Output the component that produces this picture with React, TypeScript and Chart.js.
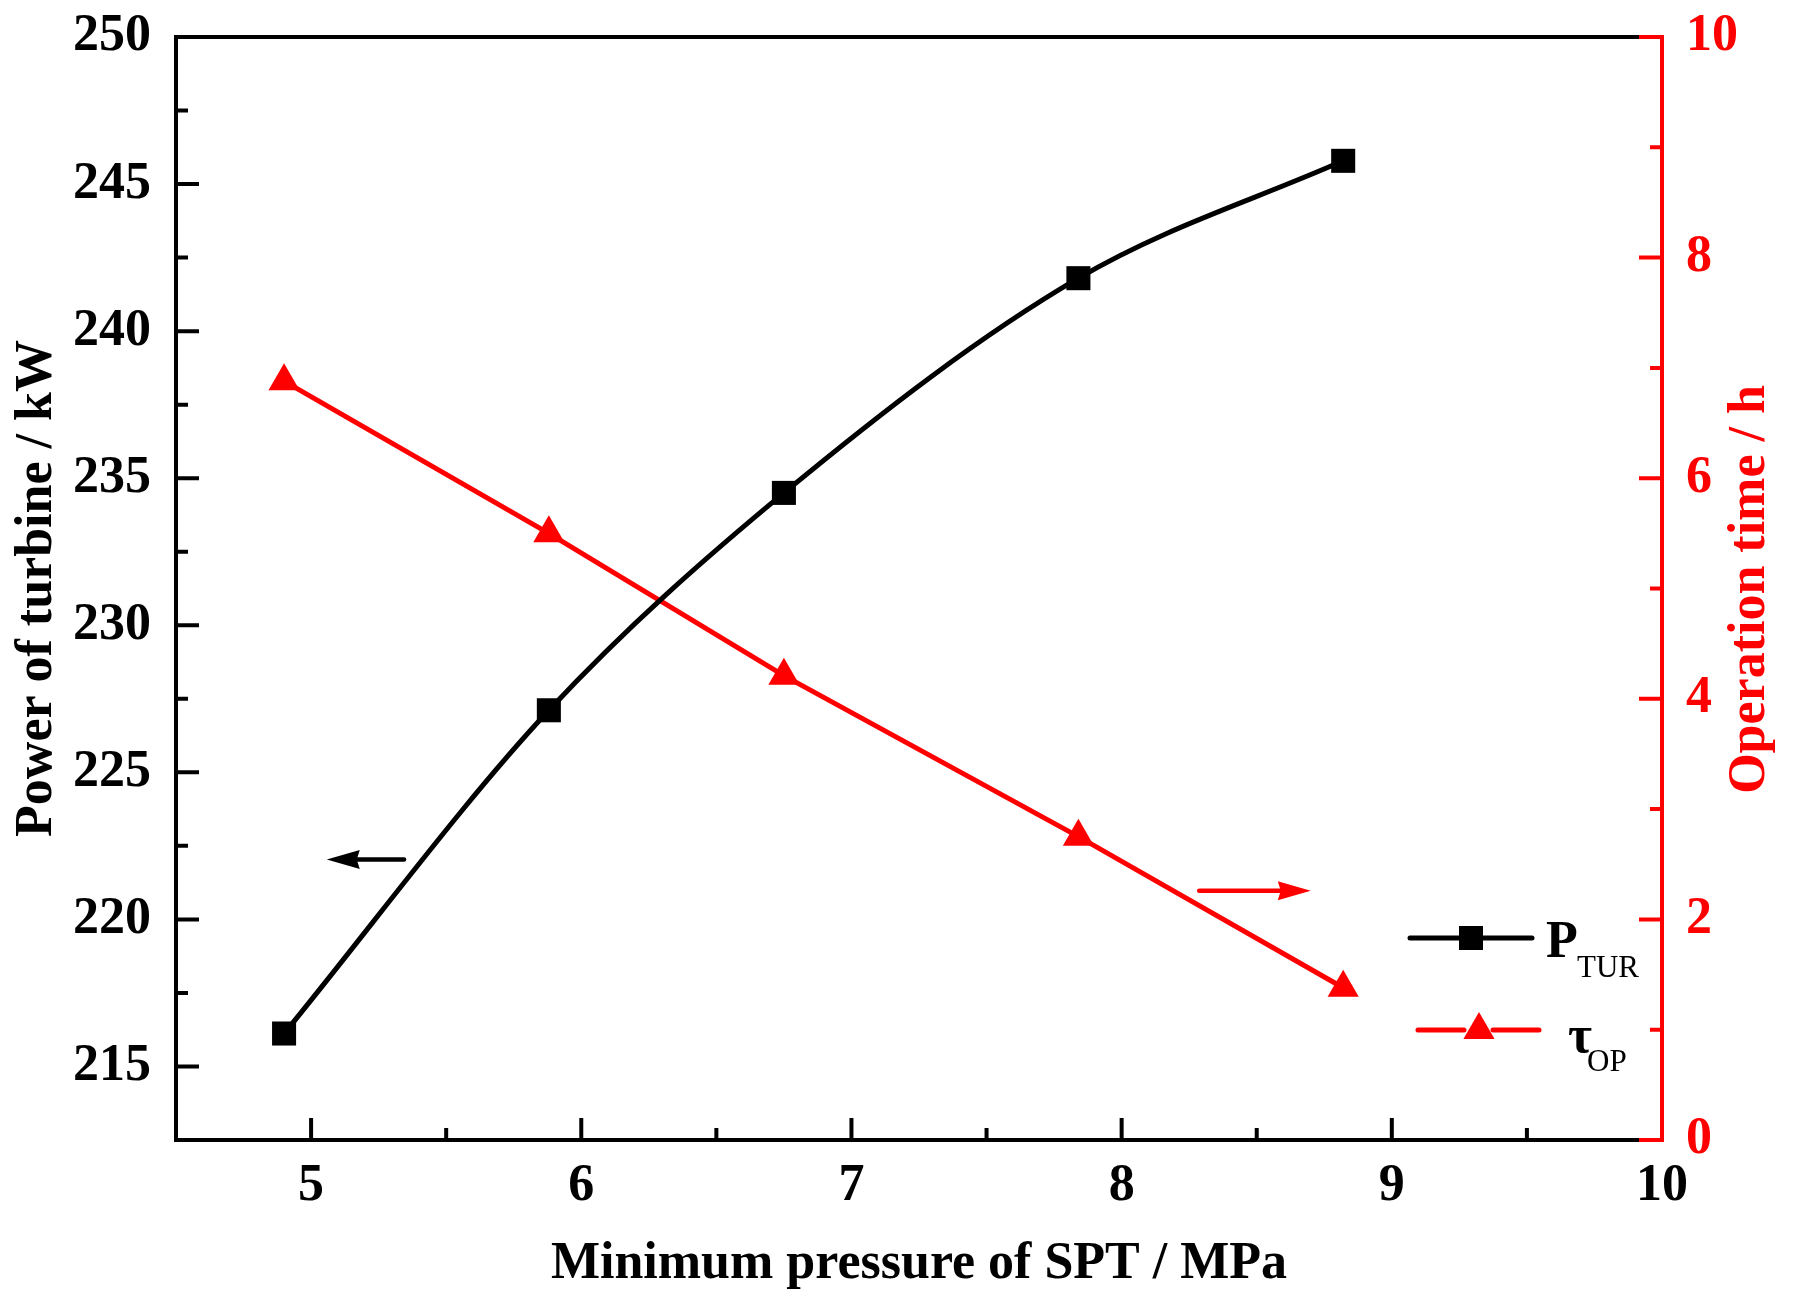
import { useEffect, useRef } from "react"
import { Chart, registerables } from "chart.js"

Chart.register(...registerables)

// Minimum pressure of SPT (MPa)
const pressure = [4.9, 5.88, 6.75, 7.84, 8.82]
// Power of turbine (kW), left axis
const turbinePower = [216.12, 227.11, 234.5, 241.8, 245.79]
// Operation time (h), right axis
const operationTime = [6.88, 5.5, 4.21, 2.75, 1.38]

const xTicks = [5, 6, 7, 8, 9, 10]
const xMinorTicks = [4.5, 5.5, 6.5, 7.5, 8.5, 9.5]
const powerTicks = [215, 220, 225, 230, 235, 240, 245, 250]
const powerMinorTicks = [212.5, 217.5, 222.5, 227.5, 232.5, 237.5, 242.5, 247.5]
const timeTicks = [0, 2, 4, 6, 8, 10]
const timeMinorTicks = [1, 3, 5, 7, 9]

// arrows telling which axis a curve belongs to (data units, head at "to")
const powerArrow = { from: 5.344, to: 5.058, y: 222.04 }
const timeArrow = { from: 8.287, to: 8.7, y: 2.26 }

const FONT = "'Liberation Serif', 'Times New Roman', serif"
const RED = "#ff0000"

function drawArrow(ctx: CanvasRenderingContext2D, x0: number, x1: number, y: number, color: string) {
  const dir = x1 > x0 ? 1 : -1
  ctx.strokeStyle = color
  ctx.fillStyle = color
  ctx.lineWidth = 4.5
  ctx.lineCap = "round"
  ctx.beginPath()
  ctx.moveTo(x0, y)
  ctx.lineTo(x1 - dir * 24, y)
  ctx.stroke()
  ctx.beginPath()
  ctx.moveTo(x1, y)
  ctx.lineTo(x1 - dir * 33, y - 9.5)
  ctx.lineTo(x1 - dir * 30, y)
  ctx.lineTo(x1 - dir * 33, y + 9.5)
  ctx.closePath()
  ctx.fill()
}

// removes the extra room Chart.js keeps for the end labels
const noEdgePadding = (scale: any) => {
  scale.paddingTop = 0
  scale.paddingBottom = 0
  scale.paddingLeft = 0
  scale.paddingRight = 0
}

const framePlugin = {
  id: "frame",
  afterDatasetsDraw(chart: any) {
    const { ctx, chartArea: a, scales } = chart
    const x = scales.x
    const yl = scales.y
    const yr = scales.y1
    ctx.save()

    // black frame and ticks (inward)
    ctx.lineWidth = 4
    ctx.lineCap = "butt"
    ctx.strokeStyle = "#000"
    ctx.beginPath()
    ctx.moveTo(a.left - 2, a.top)
    ctx.lineTo(a.right, a.top)
    ctx.moveTo(a.left, a.top - 2)
    ctx.lineTo(a.left, a.bottom + 2)
    ctx.moveTo(a.left - 2, a.bottom)
    ctx.lineTo(a.right, a.bottom)
    xTicks.forEach((v) => {
      const px = x.getPixelForValue(v)
      ctx.moveTo(px, a.bottom)
      ctx.lineTo(px, a.bottom - 22)
    })
    xMinorTicks.forEach((v) => {
      const px = x.getPixelForValue(v)
      ctx.moveTo(px, a.bottom)
      ctx.lineTo(px, a.bottom - 12)
    })
    powerTicks.forEach((v) => {
      const py = yl.getPixelForValue(v)
      ctx.moveTo(a.left, py)
      ctx.lineTo(a.left + 23, py)
    })
    powerMinorTicks.forEach((v) => {
      const py = yl.getPixelForValue(v)
      ctx.moveTo(a.left, py)
      ctx.lineTo(a.left + 12, py)
    })
    ctx.stroke()

    // red right axis
    ctx.strokeStyle = RED
    ctx.beginPath()
    ctx.moveTo(a.right, a.top - 2)
    ctx.lineTo(a.right, a.bottom + 2)
    timeTicks.forEach((v) => {
      const py = yr.getPixelForValue(v)
      ctx.moveTo(a.right, py)
      ctx.lineTo(a.right - 23, py)
    })
    timeMinorTicks.forEach((v) => {
      const py = yr.getPixelForValue(v)
      ctx.moveTo(a.right, py)
      ctx.lineTo(a.right - 12, py)
    })
    ctx.stroke()

    // arrows
    drawArrow(ctx, x.getPixelForValue(powerArrow.from), x.getPixelForValue(powerArrow.to), yl.getPixelForValue(powerArrow.y), "#000")
    drawArrow(ctx, x.getPixelForValue(timeArrow.from), x.getPixelForValue(timeArrow.to), yr.getPixelForValue(timeArrow.y), RED)

    // right axis title, reading bottom to top
    ctx.fillStyle = RED
    ctx.font = `bold 52px ${FONT}`
    ctx.textAlign = "center"
    ctx.textBaseline = "middle"
    ctx.translate(a.right + 89, (a.top + a.bottom) / 2 + 1)
    ctx.rotate(-Math.PI / 2)
    ctx.fillText("Operation time / h", 0, 0)
    ctx.restore()

    // legend
    ctx.save()
    ctx.lineCap = "round"
    ctx.lineWidth = 5
    ctx.strokeStyle = "#000"
    ctx.fillStyle = "#000"
    const by = a.bottom - 202
    ctx.beginPath()
    ctx.moveTo(a.right - 252, by)
    ctx.lineTo(a.right - 130, by)
    ctx.stroke()
    ctx.fillRect(a.right - 191 - 12, by - 12, 24, 24)
    ctx.textAlign = "left"
    ctx.textBaseline = "alphabetic"
    ctx.font = `bold 52px ${FONT}`
    ctx.fillText("P", a.right - 116, a.bottom - 183)
    ctx.font = `31px ${FONT}`
    ctx.fillText("TUR", a.right - 85, a.bottom - 163)

    const ry = a.bottom - 110
    const tx = a.right - 183
    ctx.strokeStyle = RED
    ctx.fillStyle = RED
    ctx.beginPath()
    ctx.moveTo(a.right - 244, ry)
    ctx.lineTo(tx - 15, ry)
    ctx.moveTo(tx + 14, ry)
    ctx.lineTo(a.right - 123, ry)
    ctx.stroke()
    const r = 18
    ctx.beginPath()
    ctx.moveTo(tx, ry - r)
    ctx.lineTo(tx + r * 0.866, ry + r / 2)
    ctx.lineTo(tx - r * 0.866, ry + r / 2)
    ctx.closePath()
    ctx.fill()
    ctx.fillStyle = "#000"
    ctx.font = `bold 52px ${FONT}`
    ctx.fillText("τ", a.right - 94, a.bottom - 88)
    ctx.font = `31px ${FONT}`
    ctx.fillText("OP", a.right - 75, a.bottom - 69)
    ctx.restore()
  },
}

export default function App() {
  const chartRef = useRef<HTMLCanvasElement>(null)
  const chartInstance = useRef<Chart | null>(null)

  useEffect(() => {
    if (!chartRef.current) return
    if (chartInstance.current) chartInstance.current.destroy()
    const ctx = chartRef.current.getContext("2d")
    if (!ctx) return

    const tickFont = { family: FONT, size: 52, weight: "bold" as const }

    chartInstance.current = new Chart(ctx, {
      type: "line",
      data: {
        datasets: [
          {
            label: "P_TUR",
            data: pressure.map((p, i) => ({ x: p, y: turbinePower[i] })),
            yAxisID: "y",
            borderColor: "#000",
            backgroundColor: "#000",
            borderWidth: 5,
            pointStyle: "rect",
            pointRadius: 17,
            pointBorderWidth: 0,
            pointBackgroundColor: "#000",
            cubicInterpolationMode: "monotone",
          },
          {
            label: "τ_OP",
            data: pressure.map((p, i) => ({ x: p, y: operationTime[i] })),
            yAxisID: "y1",
            borderColor: RED,
            backgroundColor: RED,
            borderWidth: 5,
            pointStyle: "triangle",
            pointRadius: 18,
            pointBorderWidth: 0,
            pointBackgroundColor: RED,
            tension: 0,
          },
        ],
      },
      options: {
        responsive: false,
        animation: false,
        devicePixelRatio: 1,
        layout: { padding: { top: 37, left: 0, right: 0, bottom: 0 } },
        plugins: {
          legend: { display: false },
          tooltip: { enabled: false },
        },
        scales: {
          x: {
            type: "linear",
            min: 4.5,
            max: 10,
            grid: { display: false, drawTicks: false },
            border: { display: false },
            afterBuildTicks: (scale: any) => {
              scale.ticks = xTicks.map((v) => ({ value: v }))
            },
            afterFit: (scale: any) => {
              scale.height = 162
              noEdgePadding(scale)
            },
            ticks: { font: tickFont, color: "#000", padding: 15, autoSkip: false, maxRotation: 0 },
            title: {
              display: true,
              text: "Minimum pressure of SPT / MPa",
              color: "#000",
              font: tickFont,
              padding: { top: 0, bottom: 6 },
            },
          },
          y: {
            type: "linear",
            position: "left",
            min: 212.5,
            max: 250,
            grid: { display: false, drawTicks: false },
            border: { display: false },
            afterBuildTicks: (scale: any) => {
              scale.ticks = powerTicks.map((v) => ({ value: v }))
            },
            afterFit: (scale: any) => {
              scale.width = 176
              noEdgePadding(scale)
            },
            ticks: { font: tickFont, color: "#000", padding: 25, autoSkip: false },
            title: {
              display: true,
              text: "Power of turbine / kW",
              color: "#000",
              font: tickFont,
              padding: { top: 6, bottom: 0 },
            },
          },
          y1: {
            type: "linear",
            position: "right",
            min: 0,
            max: 10,
            grid: { display: false, drawTicks: false },
            border: { display: false },
            afterBuildTicks: (scale: any) => {
              scale.ticks = timeTicks.map((v) => ({ value: v }))
            },
            afterFit: (scale: any) => {
              scale.width = 131
              noEdgePadding(scale)
            },
            ticks: { font: tickFont, color: RED, padding: 24, autoSkip: false },
          },
        },
      },
      plugins: [framePlugin],
    })

    return () => {
      if (chartInstance.current) {
        chartInstance.current.destroy()
        chartInstance.current = null
      }
    }
  }, [])

  return (
    <div style={{ position: "absolute", left: 0, top: 0, width: 1793, height: 1302, background: "#fff" }}>
      <canvas ref={chartRef} width={1793} height={1302} style={{ width: 1793, height: 1302 }}></canvas>
    </div>
  )
}
